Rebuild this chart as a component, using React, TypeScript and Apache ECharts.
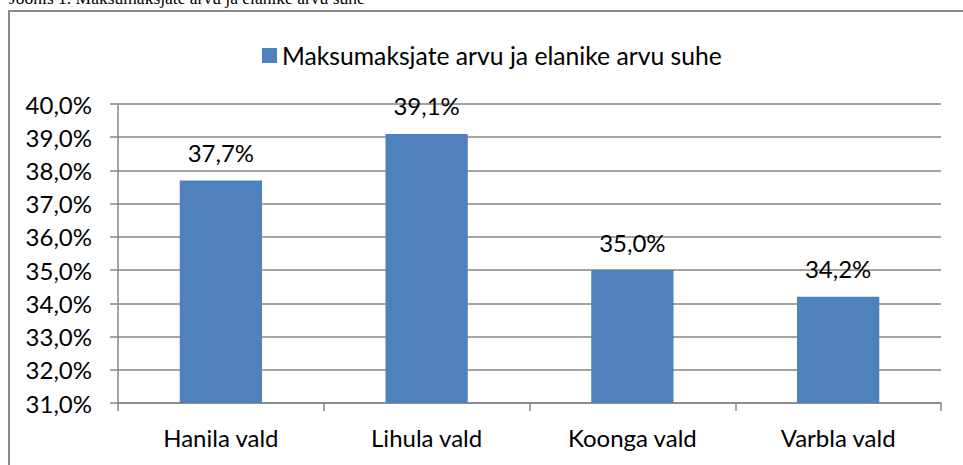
import React, { useEffect, useRef } from "react";
import * as echarts from "echarts";

const categories = ["Hanila vald", "Lihula vald", "Koonga vald", "Varbla vald"];
const values = [37.7, 39.1, 35.0, 34.2];
const seriesName = "Maksumaksjate arvu ja elanike arvu suhe";
const caption = "Joonis 1. Maksumaksjate arvu ja elanike arvu suhe";
const yMin = 31;
const yMax = 40;
const yStep = 1;

const fmt = (v: number) => v.toFixed(1).replace(".", ",") + "%";

export default function App() {
  const ref = useRef<HTMLDivElement>(null);
  useEffect(() => {
    if (!ref.current) return;
    const chart = echarts.init(ref.current, null, { renderer: "svg" });
    const font = "Lato";
    chart.setOption({
      animation: false,
      backgroundColor: "#ffffff",
      textStyle: { fontFamily: font },
      graphic: [
        {
          type: "rect",
          shape: { x: 9, y: 11, width: 1200, height: 800 },
          style: { fill: "none", stroke: "#8a8a8a", lineWidth: 2 },
          silent: true,
        },
        {
          type: "text",
          x: 9,
          y: -2,
          style: {
            text: caption,
            font: "17.5px 'Liberation Serif'",
            fill: "#000",
            verticalAlign: "middle",
            align: "left",
          },
        },
      ],
      legend: {
        left: 257,
        top: 38,
        itemWidth: 15,
        itemHeight: 15,
        icon: "rect",
        textStyle: { fontSize: 24.7, color: "#000", fontFamily: font },
        data: [seriesName],
      },
      grid: { left: 118, right: 22, top: 104, bottom: 62 },
      xAxis: {
        type: "category",
        data: categories,
        axisLine: { lineStyle: { color: "#868686", width: 1.5 } },
        axisTick: { show: true, length: 8, lineStyle: { color: "#868686", width: 1.5 } },
        axisLabel: { color: "#000", fontSize: 24, margin: 22, fontFamily: font },
      },
      yAxis: {
        type: "value",
        min: yMin,
        max: yMax,
        interval: yStep,
        axisLine: { show: true, lineStyle: { color: "#868686", width: 1.5 } },
        axisTick: { show: true, length: 8, lineStyle: { color: "#868686", width: 1.5 } },
        splitLine: { lineStyle: { color: "#868686", width: 1.5 } },
        axisLabel: { color: "#000", fontSize: 24, margin: 26, fontFamily: font, formatter: (v: number) => fmt(v) },
      },
      series: [
        {
          name: seriesName,
          type: "bar",
          data: values,
          barWidth: "40%",
          itemStyle: { color: "#4F81BD" },
          label: {
            show: true,
            position: "top",
            distance: 16,
            fontSize: 24,
            color: "#000",
            fontFamily: font,
            formatter: (p: any) => fmt(p.value),
          },
        },
      ],
    });
    return () => chart.dispose();
  }, []);
  return (
    <div
      ref={ref}
      style={{ position: "fixed", left: 0, top: 0, width: 963, height: 465 }}
    />
  );
}
